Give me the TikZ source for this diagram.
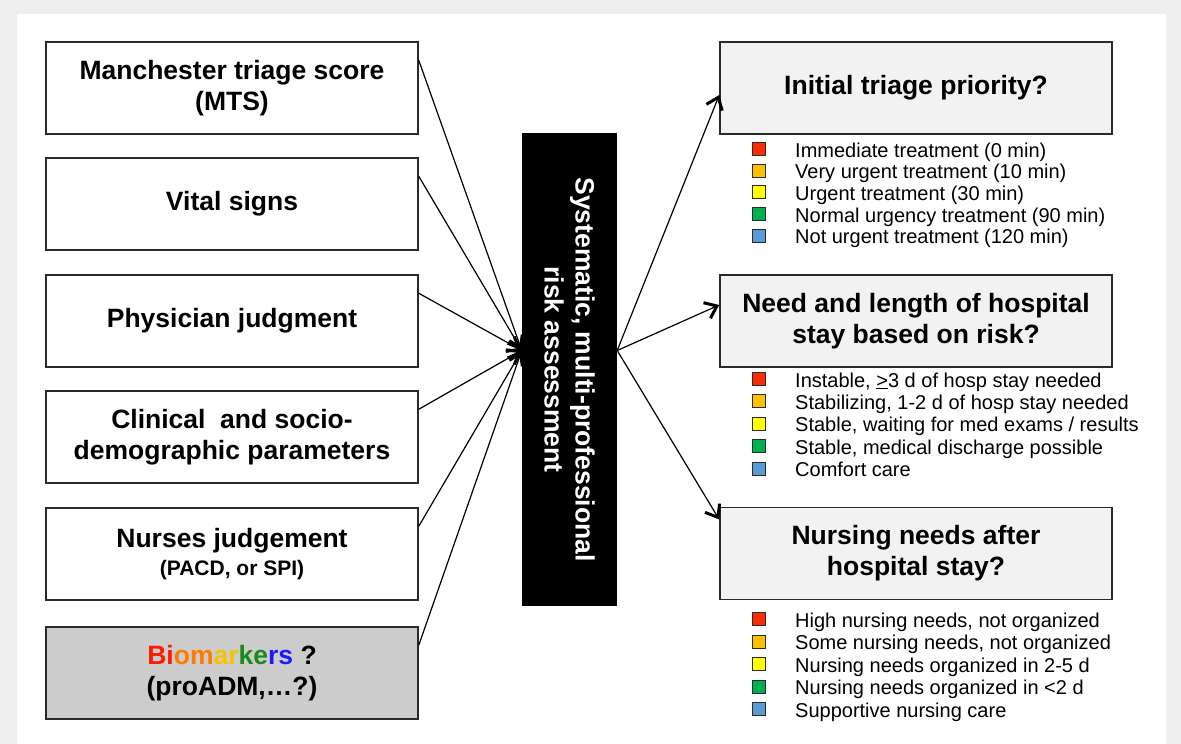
\documentclass[tikz,border=0pt]{standalone}
\usepackage{fontspec}
\setmainfont{Liberation Sans}
\usetikzlibrary{arrows.meta,calc}

\definecolor{framegray}{HTML}{EEEEEE}
\definecolor{boxline}{HTML}{2A2A2A}
\definecolor{qgray}{HTML}{F2F2F2}
\definecolor{biogray}{HTML}{CCCCCC}
\definecolor{lvred}{HTML}{FF2A00}
\definecolor{lvorange}{HTML}{FFC000}
\definecolor{lvyellow}{HTML}{FFFF00}
\definecolor{lvgreen}{HTML}{00B050}
\definecolor{lvblue}{HTML}{5B9BD5}
\definecolor{bmred}{HTML}{FF1A00}
\definecolor{bmorange}{HTML}{FF7A00}
\definecolor{bmgold}{HTML}{F5C400}
\definecolor{bmgreen}{HTML}{1A8A1A}
\definecolor{bmblue}{HTML}{1A1AFF}

\newcommand{\titlefont}{\bfseries\fontsize{26.5}{31}\selectfont}

\begin{document}
\begin{tikzpicture}[x=1pt,y=-1pt,
  inbox/.style={draw=boxline, line width=1.5pt, fill=white, minimum width=372pt,
    minimum height=92pt, align=center, font=\titlefont, inner sep=0pt},
  qbox/.style={inbox, fill=qgray, minimum width=392pt},
  hubbox/.style={fill=black, rotate=-90, minimum width=473pt, minimum height=95pt,
    inner sep=0pt, text=white, align=center, font=\titlefont},
  feed/.style={line width=1.2pt, draw=black,
    -{Straight Barb[length=11pt,width=17pt,line width=3pt]}},
  lvl/.style={draw=boxline, line width=0.9pt, minimum size=13pt, inner sep=0pt},
  lvtext/.style={anchor=base west, inner sep=0pt, font=\fontsize{20}{22}\selectfont}
]
% page frame
\fill[framegray] (0,0) rectangle (1181,744);
\fill[white] (17,14) rectangle (1166,744);
\useasboundingbox (0,0) rectangle (1181,744);

% inputs
\node[inbox] (mts)   at (232,88)  {Manchester triage score\\(MTS)};
\node[inbox] (vital) at (232,204) {Vital signs};
\node[inbox] (phys)  at (232,321) {Physician judgment};
\node[inbox] (clin)  at (232,437) {Clinical~ and socio-\\demographic parameters};
\node[inbox] (nurse) at (232,554) {Nurses judgement\\[-3pt]{\fontsize{21}{24}\selectfont (PACD, or SPI)}};
\node[inbox, fill=biogray] (bio) at (232,673)
  {\textcolor{bmred}{Bi}\textcolor{bmorange}{om}\textcolor{bmgold}{ar}\textcolor{bmgreen}{ke}\textcolor{bmblue}{rs} ?\\(proADM,…?)};

% central assessment (rotated: north = right side, south = left side)
\node[hubbox] (ra) at (569.5,369.5) {Systematic, multi-professional\\risk assessment};
\coordinate (hubin)  at ($(ra.south)+(0,-19)$);
\coordinate (hubout) at ($(ra.north)+(0,-19)$);

% outcomes
\node[qbox] (tri)  at (916,88)    {Initial triage priority?};
\node[qbox] (stay) at (916,321)   {Need and length of hospital\\stay based on risk?};
\node[qbox] (care) at (916,553.5) {Nursing needs after\\hospital stay?};

% connectors
\foreach \s in {mts,vital,phys,clin,nurse,bio}
  \draw[feed] ($(\s.north east)+(0,19)$) -- (hubin);
\draw[feed] (hubout) -- ($(tri.west)+(0,7)$);
\draw[feed] (hubout) -- ($(stay.west)+(0,-16)$);
\draw[feed] (hubout) -- ($(care.west)+(0,-34)$);

% legends
\foreach \c/\t [count=\i from 0] in {
    lvred/{Immediate treatment (0 min)},
    lvorange/{Very urgent treatment (10 min)},
    lvyellow/{Urgent treatment (30 min)},
    lvgreen/{Normal urgency treatment (90 min)},
    lvblue/{Not urgent treatment (120 min)}}{
  \node[lvl, fill=\c] (ta\i) at (759,149+21.7*\i) {};
  \node[lvtext] (tb\i) at (795,157+21.7*\i) {\t};
}
\foreach \c/\t [count=\i from 0] in {
    lvred/{Instable, \underline{>}3 d of hosp stay needed},
    lvorange/{Stabilizing, 1-2 d of hosp stay needed},
    lvyellow/{Stable, waiting for med exams / results},
    lvgreen/{Stable, medical discharge possible},
    lvblue/{Comfort care}}{
  \node[lvl, fill=\c] (sa\i) at (759,379+22.4*\i) {};
  \node[lvtext] (sb\i) at (795,387+22.4*\i) {\t};
}
\foreach \c/\t [count=\i from 0] in {
    lvred/{High nursing needs, not organized},
    lvorange/{Some nursing needs, not organized},
    lvyellow/{Nursing needs organized in 2-5 d},
    lvgreen/{Nursing needs organized in <2 d},
    lvblue/{Supportive nursing care}}{
  \node[lvl, fill=\c] (na\i) at (759,619+22.5*\i) {};
  \node[lvtext] (nb\i) at (795,627+22.5*\i) {\t};
}
\end{tikzpicture}
\end{document}
